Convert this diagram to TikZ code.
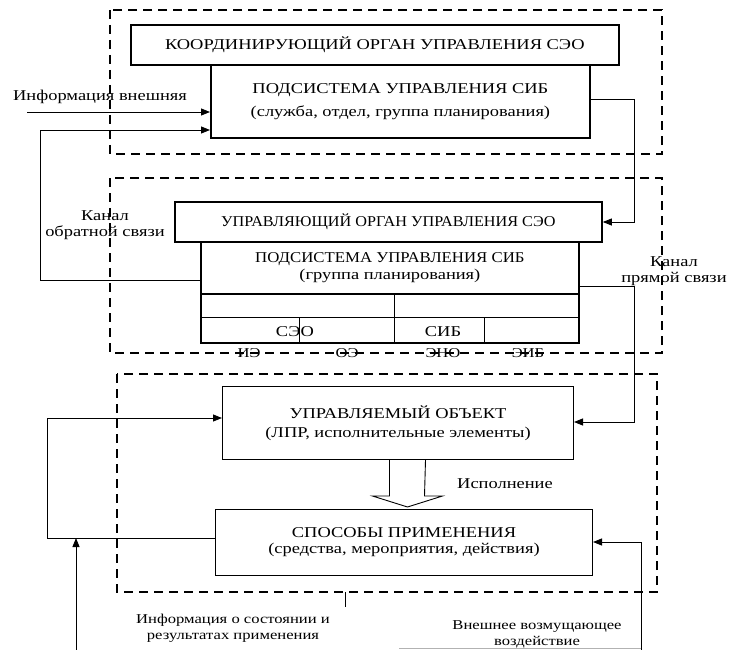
\documentclass[tikz,border=0pt]{standalone}
\usepackage{fontspec}
\setmainfont{Liberation Serif}[FakeStretch=1.23]
\newfontfamily\narrowA{Liberation Serif}[FakeStretch=1.08]
\newfontfamily\narrowB{Liberation Serif}[FakeStretch=1.12]
\usetikzlibrary{arrows.meta,calc}

\tikzset{
  dashbox/.style={draw, line width=2pt, dash pattern=on 9pt off 6pt},
  thickbox/.style={draw, line width=1.8pt, inner sep=0pt, align=center},
  thinbox/.style={draw, line width=1pt, inner sep=0pt, align=center},
  conn/.style={line width=0.9pt},
  arr/.style={conn, -{Triangle[length=9pt,width=7pt]}},
  lbl/.style={inner sep=0pt, align=center},
  fbig/.style={font=\fontsize{15}{23}\selectfont},
  fmid/.style={font=\fontsize{15}{19}\selectfont},
  fsm/.style={font=\fontsize{13.5}{16}\selectfont},
}

\begin{document}
\begin{tikzpicture}[x=1pt,y=-1pt]
\useasboundingbox (0,0) rectangle (736,650);

% dashed regions
\draw[dashbox] (110,10) rectangle (662,154);
\draw[dashbox] (110,178) rectangle (662,353);
\draw[dashbox] (117,374) rectangle (657,592);
\draw[conn] (345,592) -- (345,607);

% top region
\node[thickbox, fbig, minimum width=488pt, minimum height=40pt, anchor=north west] (koord) at (130,24) {КООРДИНИРУЮЩИЙ ОРГАН УПРАВЛЕНИЯ СЭО};
\node[thickbox, fbig, minimum width=379pt, minimum height=73pt, anchor=north west] (pod1) at (210,64) {ПОДСИСТЕМА УПРАВЛЕНИЯ СИБ\\(служба, отдел, группа планирования)};

% middle region
\node[thickbox, fmid, minimum width=427pt, minimum height=40pt, anchor=north west] (upr) at (174,201) {\narrowA УПРАВЛЯЮЩИЙ ОРГАН УПРАВЛЕНИЯ СЭО};
\node[thickbox, fmid, minimum width=378pt, minimum height=52pt, anchor=north west] (pod2) at (200,241) {{\narrowB ПОДСИСТЕМА УПРАВЛЕНИЯ СИБ}\\[-2pt](группа планирования)};
\node[thickbox, minimum width=378pt, minimum height=49pt, anchor=north west] (tbl) at (200,293) {};
\draw[conn] (tbl.west |- 0,317) -- (tbl.east |- 0,317);
\draw[conn] (394,293) -- (394,342);
\draw[conn] (299,317) -- (299,342);
\draw[conn] (484,317) -- (484,342);
\node[lbl, fmid] (seo) at (295,332) {СЭО};
\node[lbl, fmid] (sib) at (443,332) {СИБ};
\node[lbl, fsm] (ie) at (249,353) {ИЭ};
\node[lbl, fsm] (oe) at (347,353) {ОЭ};
\node[lbl, fsm] (eno) at (443,353) {ЭНО};
\node[lbl, fsm] (eib) at (528,353) {ЭИБ};

% bottom region
\node[thinbox, fmid, minimum width=351pt, minimum height=73pt, anchor=north west] (upo) at (222,386) {УПРАВЛЯЕМЫЙ ОБЪЕКТ\\(ЛПР, исполнительные элементы)};
\node[thinbox, fmid, minimum width=377pt, minimum height=66pt, anchor=north west] (spos) at (215,509) {СПОСОБЫ ПРИМЕНЕНИЯ\\[-3pt](средства, мероприятия, действия)};

% hollow execution arrow
\coordinate (hx) at ($(upo.south)+(9.5,0)$);
\draw[line width=0.9pt, fill=white] ($(hx)+(-18,0)$) -- ++(0,36) -- ++(-17,0) -- ($(hx)+(0,47)$) -- ++(35,-11) -- ++(-18,0) -- ($(hx)+(18,0)$);
\node[lbl, fmid, anchor=west] (isp) at (457,484) {Исполнение};

% labels
\node[lbl, fmid] (infv) at (100,97) {Информация внешняя};
\node[lbl, fmid] (kobr) at (105,225) {Канал\\[-3pt]обратной связи};
\node[lbl, fmid] (kpr) at (674,271) {Канал\\[-3pt]прямой связи};
\node[lbl, fsm] (infs) at (233,628) {Информация о состоянии и\\результатах применения};
\node[lbl, fsm] (vnv) at (537,634) {Внешнее возмущающее\\воздействие};

% connectors
\coordinate (ivs) at (27,112);
\draw[arr] (ivs) -- (ivs -| pod1.west);
\coordinate (fb1) at (40,280);
\coordinate (fb2) at (40,130);
\draw[arr] (pod2.west |- fb1) -- (fb1) -- (fb2) -- (fb2 -| pod1.west);
\coordinate (pr1) at (634,99);
\coordinate (pr2) at (634,222);
\draw[arr] (pr1 -| pod1.east) -- (pr1) -- (pr2) -- (pr2 -| upr.east);
\coordinate (pr3) at (634,286);
\coordinate (pr4) at (634,422);
\draw[arr] (pr3 -| pod2.east) -- (pr3) -- (pr4) -- (pr4 -| upo.east);
\coordinate (lb1) at (47,538);
\coordinate (lb2) at (47,418);
\draw[arr] (lb1 -| spos.west) -- (lb1) -- (lb2) -- (lb2 -| upo.west);
\coordinate (us) at (76,650);
\draw[arr] (us) -- (76,538);
\coordinate (ex1) at (641,650);
\coordinate (ex2) at (641,542);
\draw[arr] (ex1) -- (ex2) -- (ex2 -| spos.east);
\draw[line width=0.6pt, gray!60] (399,648) -- (ex1 |- 0,648);
\end{tikzpicture}
\end{document}
